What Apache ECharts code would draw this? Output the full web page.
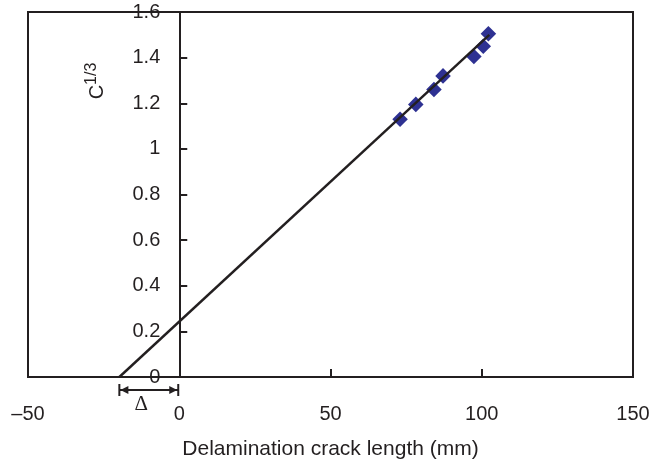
<!DOCTYPE html>
<html>
<head>
<meta charset="utf-8">
<script src="https://cdn.jsdelivr.net/npm/echarts@6/dist/echarts.min.js"></script>
<style>html,body{margin:0;padding:0;background:#fff}#c{width:651px;height:466px}</style>
</head>
<body>
<div id="c"></div>
<script>
// ---- data ----
var crackLength = [73.0, 78.2, 84.2, 87.2, 97.4, 100.5, 102.2];
var cRoot = [1.13, 1.195, 1.26, 1.32, 1.405, 1.45, 1.505];
var fitLineX = [-19.8, 102.5];
var fitLineY = [0, 1.5];
var xTickValues = [-50, 0, 50, 100, 150];
var xTickLabels = ['\u201350', '0', '50', '100', '150'];
var yTickValues = [0, 0.2, 0.4, 0.6, 0.8, 1, 1.2, 1.4, 1.6];
var yTickLabels = ['0', '0.2', '0.4', '0.6', '0.8', '1', '1.2', '1.4', '1.6'];
var deltaStart = -19.8, deltaEnd = 0;

var FONT = 'Liberation Sans, Arial, Helvetica, sans-serif';
var chart = echarts.init(document.getElementById('c'), null, {renderer: 'canvas'});

function labelFor(values, labels) {
  return function (v) {
    for (var i = 0; i < values.length; i++) {
      if (Math.abs(values[i] - v) < 1e-9) return labels[i];
    }
    return '';
  };
}

var scatterData = crackLength.map(function (x, i) { return [x, cRoot[i]]; });
var lineData = fitLineX.map(function (x, i) { return [x, fitLineY[i]]; });

var gridLeft = 28, gridRight = 18, W = 651;
var xMin = -50, xMax = 150;
var yAxisOffset = -((0 - xMin) / (xMax - xMin)) * (W - gridLeft - gridRight);

chart.setOption({
  animation: false,
  backgroundColor: '#fff',
  grid: {left: gridLeft, right: gridRight, top: 12, bottom: 89, show: true, borderColor: '#231f20', borderWidth: 2,
         backgroundColor: 'transparent', containLabel: false, outerBoundsMode: 'none'},
  xAxis: {
    type: 'value', min: xMin, max: xMax, interval: 50,
    name: 'Delamination crack length (mm)', nameLocation: 'middle', nameGap: 62,
    nameTextStyle: {fontFamily: FONT, fontSize: 21, color: '#231f20'},
    axisLine: {show: true, onZero: false, lineStyle: {color: '#231f20', width: 2}},
    axisTick: {show: true, inside: true, length: 8, lineStyle: {color: '#231f20', width: 2}},
    axisLabel: {margin: 27, fontFamily: FONT, fontSize: 20, color: '#231f20', formatter: labelFor(xTickValues, xTickLabels)},
    splitLine: {show: false}
  },
  yAxis: {
    type: 'value', min: 0, max: 1.6, interval: 0.2, offset: yAxisOffset,
    axisLine: {show: true, onZero: false, lineStyle: {color: '#231f20', width: 2}},
    axisTick: {show: true, inside: true, length: 8, lineStyle: {color: '#231f20', width: 2}},
    axisLabel: {margin: 19, fontFamily: FONT, fontSize: 20, color: '#231f20', formatter: labelFor(yTickValues, yTickLabels)},
    splitLine: {show: false}
  },
  series: [
    {type: 'scatter', data: scatterData, symbol: 'rect', symbolRotate: 45, symbolSize: 11,
     itemStyle: {color: '#2e3192', opacity: 1}, z: 2},
    {type: 'line', data: lineData, showSymbol: false, symbol: 'none',
     lineStyle: {color: '#231f20', width: 2.4}, z: 3}
  ]
});

// Delta dimension annotation
var p1 = chart.convertToPixel({gridIndex: 0}, [deltaStart, 0]);
var p2 = chart.convertToPixel({gridIndex: 0}, [deltaEnd, 0]);
var ay = p1[1] + 13;
var x1 = p1[0], x2 = p2[0] - 1;
var col = '#231f20';
chart.setOption({
  graphic: [
    {type: 'line', shape: {x1: x1, y1: ay, x2: x2, y2: ay}, style: {stroke: col, lineWidth: 2}},
    {type: 'line', shape: {x1: x1, y1: ay - 6, x2: x1, y2: ay + 6}, style: {stroke: col, lineWidth: 2}},
    {type: 'line', shape: {x1: x2, y1: ay - 6, x2: x2, y2: ay + 6}, style: {stroke: col, lineWidth: 2}},
    {type: 'polygon', shape: {points: [[x1 + 1, ay], [x1 + 9, ay - 4], [x1 + 9, ay + 4]]}, style: {fill: col}},
    {type: 'polygon', shape: {points: [[x2 - 1, ay], [x2 - 9, ay - 4], [x2 - 9, ay + 4]]}, style: {fill: col}},
    {type: 'text', x: x1 + 22, y: ay + 14,
     style: {text: '\u0394', font: '21px "Liberation Serif", "DejaVu Serif", serif', fill: col, align: 'center', verticalAlign: 'middle'}},
    {type: 'group', x: 97, y: 81, rotation: Math.PI / 2,
     children: [
       {type: 'text', x: 0, y: 0,
        style: {text: 'C{sup|1/3}', font: '20px ' + FONT, fill: col, align: 'center', verticalAlign: 'middle',
          rich: {sup: {fontSize: 16, fontFamily: FONT, fill: col, verticalAlign: 'top', padding: [0, 0, 10, 0]}}}}
     ]}
  ]
});
</script>
</body>
</html>
